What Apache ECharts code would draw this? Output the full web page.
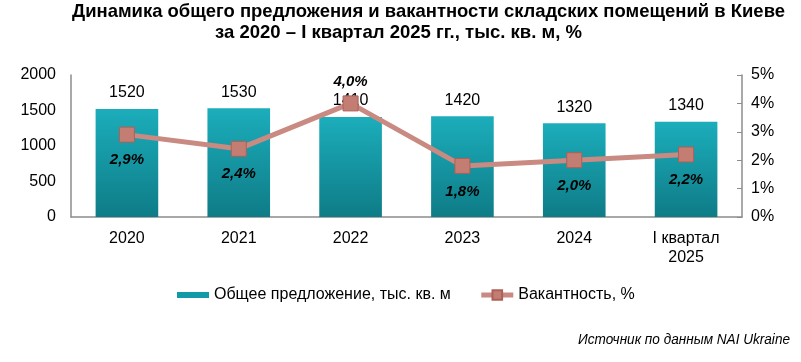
<!DOCTYPE html>
<html><head><meta charset="utf-8">
<script src="https://cdn.jsdelivr.net/npm/echarts@6/dist/echarts.min.js"></script>
<style>html,body{margin:0;padding:0;background:#fff}#c{width:801px;height:362px}</style>
</head><body><div id="c"></div>
<script>
var categories = ['2020', '2021', '2022', '2023', '2024', 'I квартал\n2025'];
var supply = [1520, 1530, 1410, 1420, 1320, 1340];
var vacancy = [2.9, 2.4, 4.0, 1.8, 2.0, 2.2];
var leftTicks = [0, 500, 1000, 1500, 2000];
var rightTicks = [0, 1, 2, 3, 4, 5];
var titleLines = ['Динамика общего предложения и вакантности складских помещений в Киеве', 'за 2020 – I квартал 2025 гг., тыс. кв. м, %'];

var sans = '"Liberation Sans", Arial, sans-serif';
var ctx = document.createElement('canvas').getContext('2d');
function fitText(text, font, targetW) {
  ctx.font = font;
  return targetW / ctx.measureText(text).width;
}
var tFont = 'bold 19px ' + sans;
var sFont = 'italic 14px ' + sans;
var s1 = fitText(titleLines[0], tFont, 713);
var s2 = fitText(titleLines[1], tFont, 367);
var s3 = fitText('Источник по данным NAI Ukraine', sFont, 212);

var chart = echarts.init(document.getElementById('c'));
chart.setOption({
  animation: false,
  graphic: [
    {type: 'text', x: 72, y: 2, scaleX: s1, style: {text: titleLines[0], font: tFont, fill: '#000'}},
    {type: 'text', x: 215, y: 23, scaleX: s2, style: {text: titleLines[1], font: tFont, fill: '#000'}},
    {type: 'text', x: 578, y: 333, scaleX: s3, style: {text: 'Источник по данным NAI Ukraine', font: sFont, fill: '#000'}}
  ],
  grid: {left: 71, right: 59, top: 75, bottom: 145},
  legend: {
    left: 172, top: 282, itemGap: 28, itemWidth: 32, itemHeight: 12,
    textStyle: {fontFamily: sans, fontSize: 16, color: '#000'},
    data: [
      {name: 'Общее предложение, тыс. кв. м', icon: 'path://M0,3 L32,3 L32,9 L0,9 Z', itemStyle: {color: '#139aa8'}},
      {name: 'Вакантность, %', lineStyle: {width: 5}}
    ]
  },
  xAxis: {
    type: 'category', data: categories,
    axisLine: {lineStyle: {color: '#8c8c8c', width: 1.5}},
    axisTick: {show: false},
    axisLabel: {fontFamily: sans, fontSize: 16, color: '#000', margin: 12, lineHeight: 19}
  },
  yAxis: [
    {type: 'value', min: 0, max: 2000, interval: 500,
     axisLine: {show: true, lineStyle: {color: '#8c8c8c', width: 1.5}},
     axisTick: {show: false}, splitLine: {show: false},
     axisLabel: {fontFamily: sans, fontSize: 16, color: '#000', margin: 15, formatter: function (v) { return String(v); }}},
    {type: 'value', min: 0, max: 5, interval: 1,
     axisLine: {show: true, lineStyle: {color: '#8c8c8c', width: 1.5}},
     axisTick: {show: true, inside: true, length: 5, lineStyle: {color: '#8c8c8c'}}, splitLine: {show: false},
     axisLabel: {fontFamily: sans, fontSize: 16, color: '#000', margin: 9, formatter: '{value}%'}}
  ],
  series: [
    {name: 'Общее предложение, тыс. кв. м', type: 'bar', data: supply, barWidth: '56%', yAxisIndex: 0,
     itemStyle: {color: new echarts.graphic.LinearGradient(0, 0, 0, 1, [{offset: 0, color: '#1cadbb'}, {offset: 1, color: '#0e7c87'}])},
     label: {show: true, position: 'top', distance: 8, fontFamily: sans, fontSize: 16, color: '#000'}},
    {name: 'Вакантность, %', type: 'line', yAxisIndex: 1, z: 5,
     data: vacancy.map(function (v, i) {
       return {value: v, label: {position: i === 2 ? 'top' : 'bottom', distance: i === 2 ? 6 : 10}};
     }),
     symbol: 'rect', symbolSize: 15,
     lineStyle: {color: '#c98a82', width: 5},
     itemStyle: {color: '#c47d73', borderColor: '#ab6157', borderWidth: 1},
     label: {show: true, fontFamily: sans, fontSize: 15, fontWeight: 'bold', fontStyle: 'italic', color: '#000',
       formatter: function (p) { return p.value.toFixed(1).replace('.', ',') + '%'; }}}
  ]
});
</script></body></html>
